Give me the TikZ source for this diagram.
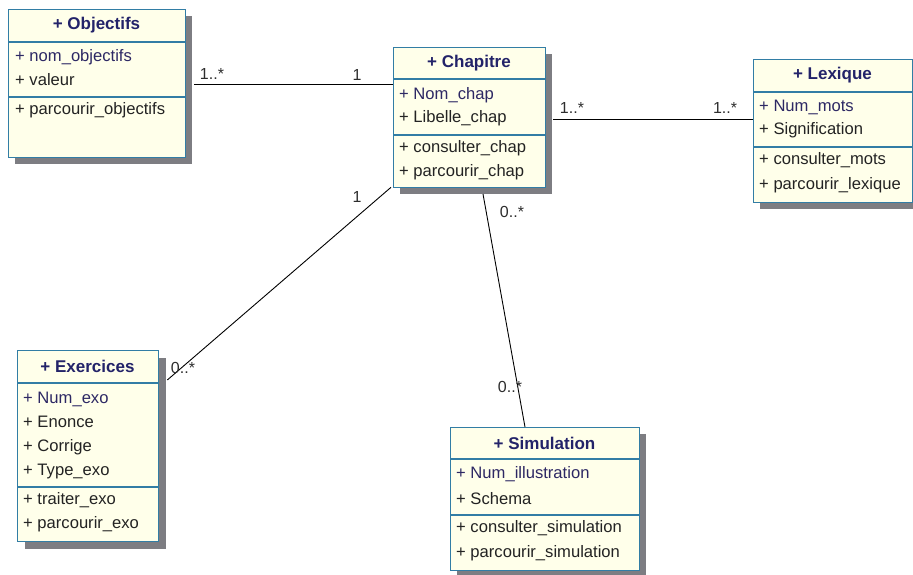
\documentclass[tikz,border=0pt]{standalone}
\usepackage{fontspec}
\setmainfont{Liberation Sans}
\definecolor{boxfill}{RGB}{255,255,234}
\definecolor{boxline}{RGB}{50,125,165}
\definecolor{shadowgray}{RGB}{125,125,130}
\definecolor{titlecol}{RGB}{35,35,105}
\definecolor{keycol}{RGB}{45,40,100}
\definecolor{itemcol}{RGB}{35,35,35}
\definecolor{multcol}{RGB}{45,45,45}
\begin{document}
\begin{tikzpicture}[x=1pt,y=-1pt,
  classbox/.style={draw=boxline, fill=boxfill, line width=1.3pt, inner sep=0pt, anchor=north west},
  shade/.style={fill=shadowgray, draw=none},
  sepline/.style={draw=boxline, line width=1.3pt},
  title/.style={font=\fontsize{17}{19}\selectfont\bfseries, text=titlecol, inner sep=0pt},
  item/.style={font=\fontsize{16.6}{18}\selectfont, text=itemcol, anchor=west, inner sep=0pt},
  key/.style={item, text=keycol},
  mult/.style={font=\fontsize{16}{18}\selectfont, text=multcol, inner sep=0pt},
  assoc/.style={draw=black, line width=0.9pt}]
\useasboundingbox (0,0) rectangle (913,574);

% ---- class boxes (shadows first) ----
\fill[shade] (15,16) rectangle (192,164);
\node[classbox, minimum width=177pt, minimum height=148pt] (obj) at (8,9) {};
\fill[shade] (400,54) rectangle (552,194);
\node[classbox, minimum width=152pt, minimum height=140pt] (chap) at (393,47) {};
\fill[shade] (760,66) rectangle (919,209);
\node[classbox, minimum width=159pt, minimum height=143pt] (lex) at (753,59) {};
\fill[shade] (25,358) rectangle (166,549);
\node[classbox, minimum width=141pt, minimum height=191pt] (exo) at (17,350) {};
\fill[shade] (457,434) rectangle (646,577);
\node[classbox, minimum width=189pt, minimum height=143pt] (sim) at (450,427) {};

% ---- associations ----
\coordinate (objR) at (obj.north east |- 0,84);
\coordinate (chapL) at (chap.north west |- 0,84);
\draw[assoc] ([xshift=8pt]objR) -- (chapL);
\coordinate (chapR) at (chap.north east |- 0,119);
\coordinate (lexL) at (lex.north west |- 0,119);
\draw[assoc] ([xshift=7pt]chapR) -- (lexL);
\coordinate (exoR) at (exo.north east |- 0,380);
\draw[assoc] ([xshift=-2pt,yshift=1pt]chap.south west) -- ([xshift=8pt]exoR);
\coordinate (chapB) at (483,194);
\coordinate (simT) at (525,427);
\draw[assoc] (chapB) -- (simT);

% ---- compartments ----
\draw[sepline] (obj.north west |- 0,42) -- (obj.north east |- 0,42);
\draw[sepline] (obj.north west |- 0,97) -- (obj.north east |- 0,97);
\draw[sepline] (chap.north west |- 0,79) -- (chap.north east |- 0,79);
\draw[sepline] (chap.north west |- 0,135) -- (chap.north east |- 0,135);
\draw[sepline] (lex.north west |- 0,92) -- (lex.north east |- 0,92);
\draw[sepline] (lex.north west |- 0,147) -- (lex.north east |- 0,147);
\draw[sepline] (exo.north west |- 0,383) -- (exo.north east |- 0,383);
\draw[sepline] (exo.north west |- 0,487) -- (exo.north east |- 0,487);
\draw[sepline] (sim.north west |- 0,459) -- (sim.north east |- 0,459);
\draw[sepline] (sim.north west |- 0,515) -- (sim.north east |- 0,515);

% ---- Objectifs ----
\node[title] (objT) at (96.5,25) {+ Objectifs};
\node[key]  (objA1) at (15,57) {+ nom\_objectifs};
\node[item] (objA2) at (15,80) {+ valeur};
\node[item] (objM1) at (15,110) {+ parcourir\_objectifs};

% ---- Chapitre ----
\node[title] (chapT) at (469,63) {+ Chapitre};
\node[key]  (chapA1) at (399,95) {+ Nom\_chap};
\node[item] (chapA2) at (399,118) {+ Libelle\_chap};
\node[item] (chapM1) at (399,148) {+ consulter\_chap};
\node[item] (chapM2) at (399,172) {+ parcourir\_chap};

% ---- Lexique ----
\node[title] (lexT) at (832.5,75) {+ Lexique};
\node[key]  (lexA1) at (759,107) {+ Num\_mots};
\node[item] (lexA2) at (759,130) {+ Signification};
\node[item] (lexM1) at (759,160) {+ consulter\_mots};
\node[item] (lexM2) at (759,185) {+ parcourir\_lexique};

% ---- Exercices ----
\node[title] (exoT) at (87.5,366) {+ Exercices};
\node[key]  (exoA1) at (23,399) {+ Num\_exo};
\node[item] (exoA2) at (23,422) {+ Enonce};
\node[item] (exoA3) at (23,447) {+ Corrige};
\node[item] (exoA4) at (23,472) {+ Type\_exo};
\node[item] (exoM1) at (23,500) {+ traiter\_exo};
\node[item] (exoM2) at (23,524) {+ parcourir\_exo};

% ---- Simulation ----
\node[title] (simT2) at (544.5,443) {+ Simulation};
\node[key]  (simA1) at (456,474) {+ Num\_illustration};
\node[item] (simA2) at (456,499) {+ Schema};
\node[item] (simM1) at (456,528) {+ consulter\_simulation};
\node[item] (simM2) at (456,553) {+ parcourir\_simulation};

% ---- multiplicities ----
\node[mult] (m1) at (212,74) {1..*};
\node[mult] (m2) at (357,75) {1};
\node[mult] (m3) at (572,108) {1..*};
\node[mult] (m4) at (725,108) {1..*};
\node[mult] (m5) at (357,197) {1};
\node[mult] (m6) at (183,368) {0..*};
\node[mult] (m7) at (512,212) {0..*};
\node[mult] (m8) at (510,387) {0..*};
\end{tikzpicture}
\end{document}
